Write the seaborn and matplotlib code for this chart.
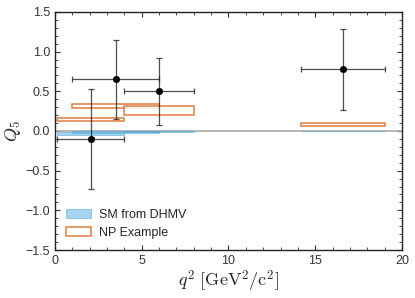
import matplotlib
matplotlib.use("Agg")
import matplotlib.pyplot as plt
import seaborn as sns
import numpy as np
from matplotlib.ticker import MultipleLocator

# q^2 bins
bin_lo = [0.1, 1.0, 4.0, 14.18]
bin_hi = [4.0, 6.0, 8.0, 19.0]

# measurements (Q5) with errors
meas_x = [2.05, 3.5, 6.0, 16.6]
meas_xlo = [0.1, 1.0, 4.0, 14.18]
meas_xhi = [4.0, 6.0, 8.0, 19.0]
meas_y = [-0.10, 0.65, 0.50, 0.78]
meas_err = [0.63, 0.50, 0.42, 0.51]

# SM prediction bands (DHMV)
sm_lo = [-0.045, -0.02, -0.015, -0.006]
sm_hi = [-0.015, 0.0, 0.0, 0.004]

# NP example bands
np_lo = [0.12, 0.29, 0.20, 0.066]
np_hi = [0.162, 0.335, 0.31, 0.098]

sns.set_style("ticks")
plt.rcParams["font.family"] = ["Liberation Sans", "DejaVu Sans"]
plt.rcParams["mathtext.fontset"] = "cm"

fig = plt.figure(figsize=(4.15, 2.98), dpi=100)
ax = fig.add_axes([0.1325, 0.161, 0.8362, 0.799])

ax.axhline(0, color="#aaaaaa", lw=1.2, zorder=1)

w = np.array(bin_hi) - np.array(bin_lo)
ax.bar(bin_lo, np.array(sm_hi) - np.array(sm_lo), width=w, bottom=sm_lo, align="edge",
       color="#6bb8e6", alpha=0.6, edgecolor="#4a9fd0", lw=0.6, label="SM from DHMV", zorder=2)
ax.bar(bin_lo, np.array(np_hi) - np.array(np_lo), width=w, bottom=np_lo, align="edge",
       facecolor=(1, 1, 1, 0), edgecolor="#d9671f", lw=1.1, alpha=0.85, label="NP Example", zorder=3)

xerr = [np.array(meas_x) - np.array(meas_xlo), np.array(meas_xhi) - np.array(meas_x)]
ax.errorbar(meas_x, meas_y, xerr=xerr, yerr=meas_err, fmt="none", ecolor="#222222",
            elinewidth=0.9, capsize=2.5, capthick=0.9, alpha=0.8, zorder=4)
sns.scatterplot(x=meas_x, y=meas_y, color="black", s=22, edgecolor="black", ax=ax, zorder=5)

ax.set_xlim(0, 20)
ax.set_ylim(-1.5, 1.5)
ax.xaxis.set_major_locator(MultipleLocator(5))
ax.xaxis.set_minor_locator(MultipleLocator(1))
ax.yaxis.set_major_locator(MultipleLocator(0.5))
ax.yaxis.set_minor_locator(MultipleLocator(0.1))
ax.tick_params(which="both", direction="in", top=True, right=True, labelsize=9, colors="#333333",
               labelcolor="#333333")
ax.tick_params(which="major", length=3.5, width=0.8)
ax.tick_params(which="minor", length=2, width=0.6)
for s in ax.spines.values():
    s.set_linewidth(1.0)
    s.set_color("#222222")

ax.set_xlabel(r"$q^2\ [\mathrm{GeV}^2/\mathrm{c}^2]$", fontsize=13, labelpad=1)
ax.set_ylabel(r"$Q_5$", fontsize=13, labelpad=2)

ax.legend(loc="lower left", frameon=False, fontsize=9, handlelength=2.0, handleheight=0.8,
          borderaxespad=0.5, labelspacing=0.45, handletextpad=0.6)

fig.savefig("out.png", dpi=100)
